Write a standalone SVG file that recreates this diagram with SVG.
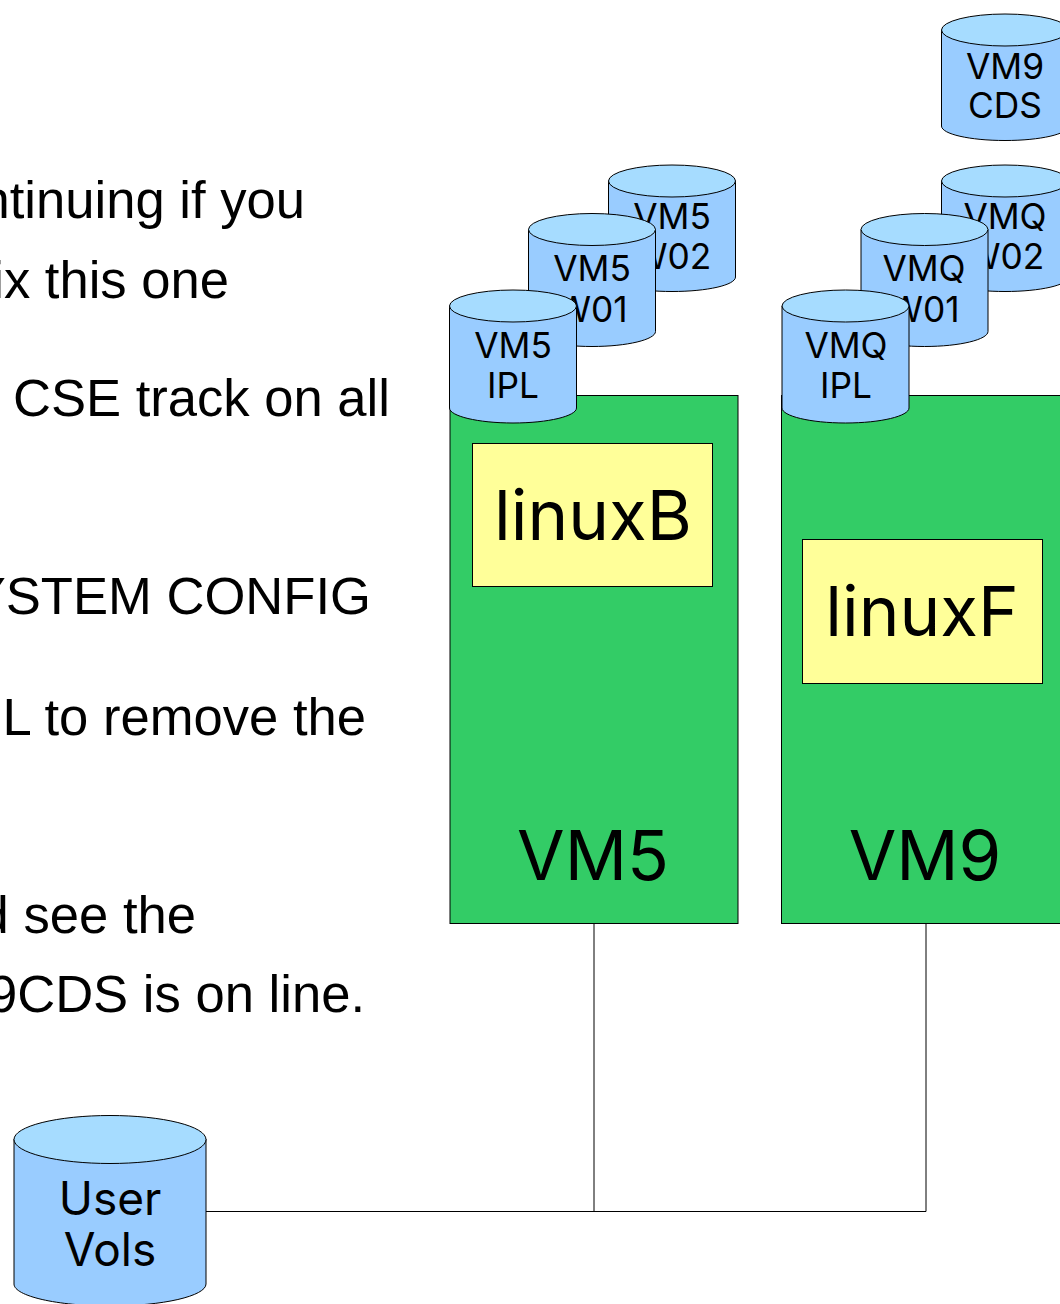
<svg xmlns="http://www.w3.org/2000/svg" width="1060" height="1304" viewBox="0 0 1060 1304">
<style>
.b{fill:#99ccff;stroke:#000;stroke-width:1}
.t{fill:#a6dcff;stroke:#000;stroke-width:1}
.g{fill:#33cc66;stroke:#000;stroke-width:1}
.y{fill:#ffff99;stroke:#000;stroke-width:1}
.c{fill:none;stroke:#000;stroke-width:1}
text{fill:#000}
.s{font:35.300px Inter,sans-serif;text-anchor:middle}
.u{font:46px Inter,sans-serif;text-anchor:middle}
.h{font:69px Inter,sans-serif;text-anchor:middle}
.l{font:52.600px "Liberation Sans",Arial,sans-serif;text-anchor:end}
</style>
<defs>
<g id="cyl">
<path class="b" d="M0 16V118C0 126 28 133 63.500 133S127 126 127 118V16Z"/>
<ellipse class="t" cx="63.500" cy="16" rx="63.500" ry="16"/>
</g>
<g id="cys">
<path class="b" d="M0 16V112C0 120 28 126.500 63.500 126.500S127 120 127 112V16Z"/>
<ellipse class="t" cx="63.500" cy="16" rx="63.500" ry="16"/>
</g>
</defs>
<g id="notes">
<text class="l" x="305" y="218">ontinuing if you</text>
<text class="l" x="229" y="298">fix this one</text>
<text class="l" x="390" y="416">CSE track on all</text>
<text class="l" x="371" y="614">SYSTEM CONFIG</text>
<text class="l" x="366" y="735">L to remove the</text>
<text class="l" x="196" y="933">d see the</text>
<text class="l" x="365" y="1012">9CDS is on line.</text>
</g>
<g id="connectors">
<path class="c" d="M206 1211.500H926V923M594 923V1211.500"/>
</g>
<g id="vm5">
<rect class="g" x="450" y="395.500" width="288" height="528"/>
<text class="h" x="593" y="880">VM5</text>
</g>
<g id="linuxB">
<rect class="y" x="472.500" y="443.500" width="240" height="143"/>
<text class="h" x="593" y="540">linuxB</text>
</g>
<g id="vm9">
<rect class="g" x="781.500" y="395.500" width="290" height="528"/>
<text class="h" x="925" y="880">VM9</text>
</g>
<g id="linuxF">
<rect class="y" x="802.500" y="539.500" width="240" height="144"/>
<text class="h" x="922" y="636">linuxF</text>
</g>
<g id="vm5w02"><use href="#cys" x="608.500" y="165"/><text class="s"><tspan x="672" y="229">VM5</tspan><tspan x="672" y="269">W02</tspan></text></g>
<g id="vm5w01"><use href="#cyl" x="528.500" y="213.500"/><text class="s"><tspan x="592" y="281">VM5</tspan><tspan x="592" y="322">W01</tspan></text></g>
<g id="vm5ipl"><use href="#cyl" x="449.500" y="290"/><text class="s"><tspan x="513" y="358">VM5</tspan><tspan x="513" y="398">IPL</tspan></text></g>
<g id="vm9cds"><use href="#cys" x="941.500" y="14"/><text class="s"><tspan x="1005" y="79">VM9</tspan><tspan x="1005" y="118">CDS</tspan></text></g>
<g id="vmqw02"><use href="#cys" x="941.500" y="165"/><text class="s"><tspan x="1005" y="229">VMQ</tspan><tspan x="1005" y="269">W02</tspan></text></g>
<g id="vmqw01"><use href="#cyl" x="861" y="213.500"/><text class="s"><tspan x="924" y="281">VMQ</tspan><tspan x="924" y="322">W01</tspan></text></g>
<g id="vmqipl"><use href="#cyl" x="782" y="290"/><text class="s"><tspan x="846" y="358">VMQ</tspan><tspan x="846" y="398">IPL</tspan></text></g>
<g id="uservols">
<path class="b" d="M14 1139V1284C14 1296 57 1306 110 1306S206 1296 206 1284V1139Z"/>
<ellipse class="t" cx="110" cy="1139.500" rx="96" ry="24"/>
<text class="u"><tspan x="110" y="1215">User</tspan><tspan x="110" y="1266">Vols</tspan></text>
</g>
</svg>
